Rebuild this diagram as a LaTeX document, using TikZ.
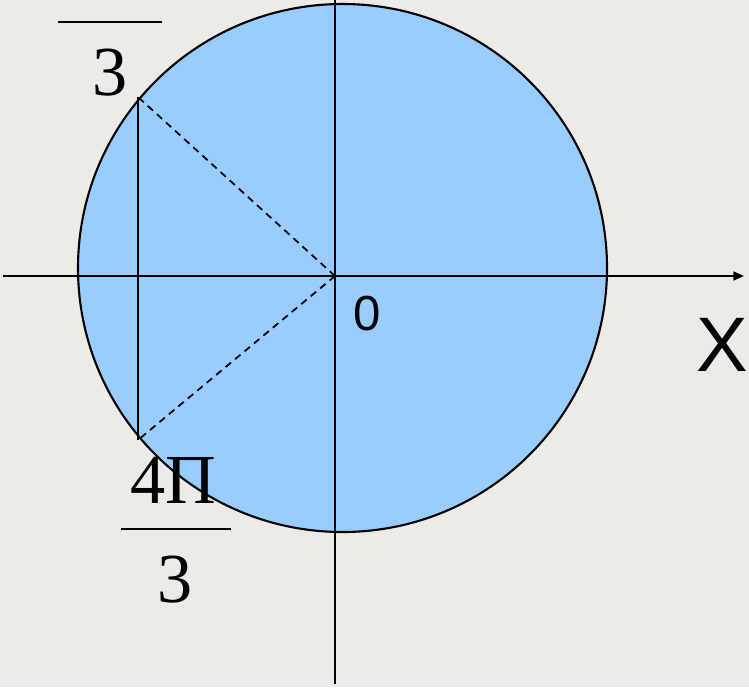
\documentclass[tikz,border=0pt]{standalone}
\usepackage{fontspec}
\setmainfont{Liberation Serif}
\setsansfont{Liberation Sans}
\usepackage{xcolor}
\usetikzlibrary{arrows.meta}
\definecolor{paper}{HTML}{ECEBE8}
\definecolor{diskblue}{HTML}{99CCFF}
\tikzset{
  axis/.style={black, line width=1.2pt},
  chord/.style={black, line width=1.2pt},
  radius line/.style={black, line width=1pt, dash pattern=on 4pt off 3pt},
  fraclabel/.style={font=\fontsize{40}{40}\selectfont, anchor=base, inner sep=0pt},
  fracbar/.style={line width=1.6pt},
}
\begin{document}
\begin{tikzpicture}[x=0.02cm, y=-0.02cm]
\fill[paper] (0,0) rectangle (749,687);
\useasboundingbox (0,0) rectangle (749,687);
\filldraw[fill=diskblue, draw=black, line width=1.2pt] (342.5,268) ellipse (264.5 and 264);
\coordinate (O) at (335,276);
\coordinate (A) at (138,97);
\coordinate (B) at (138,440);
\coordinate (xstart) at (3,276);
\coordinate (xend) at (744,276);
\coordinate (ytop) at (335,0);
\coordinate (ybot) at (335,684);
\draw[axis, -{Triangle[length=6pt, width=5pt]}] (xstart) -- (xend);
\draw[axis] (ytop) -- (ybot);
\draw[chord] (A) -- (B);
\draw[radius line] (O) -- (A);
\draw[radius line] (O) -- (B);
% labels
\draw[fracbar] (58,22) -- (162,22);
\node[fraclabel] (topden) at (110,95) {3};
\node[fraclabel] (botnum) at (173,503) {4Π};
\draw[fracbar] (121,529) -- (231,529);
\node[fraclabel] (botden) at (175,602) {3};
\node[font=\sffamily\fontsize{28}{28}\selectfont, anchor=base, inner sep=0pt] (zero) at (367,330) {0};
\node[font=\sffamily\fontsize{44}{44}\selectfont, anchor=base, inner sep=0pt] (xlabel) at (722,371) {X};
\end{tikzpicture}
\end{document}
